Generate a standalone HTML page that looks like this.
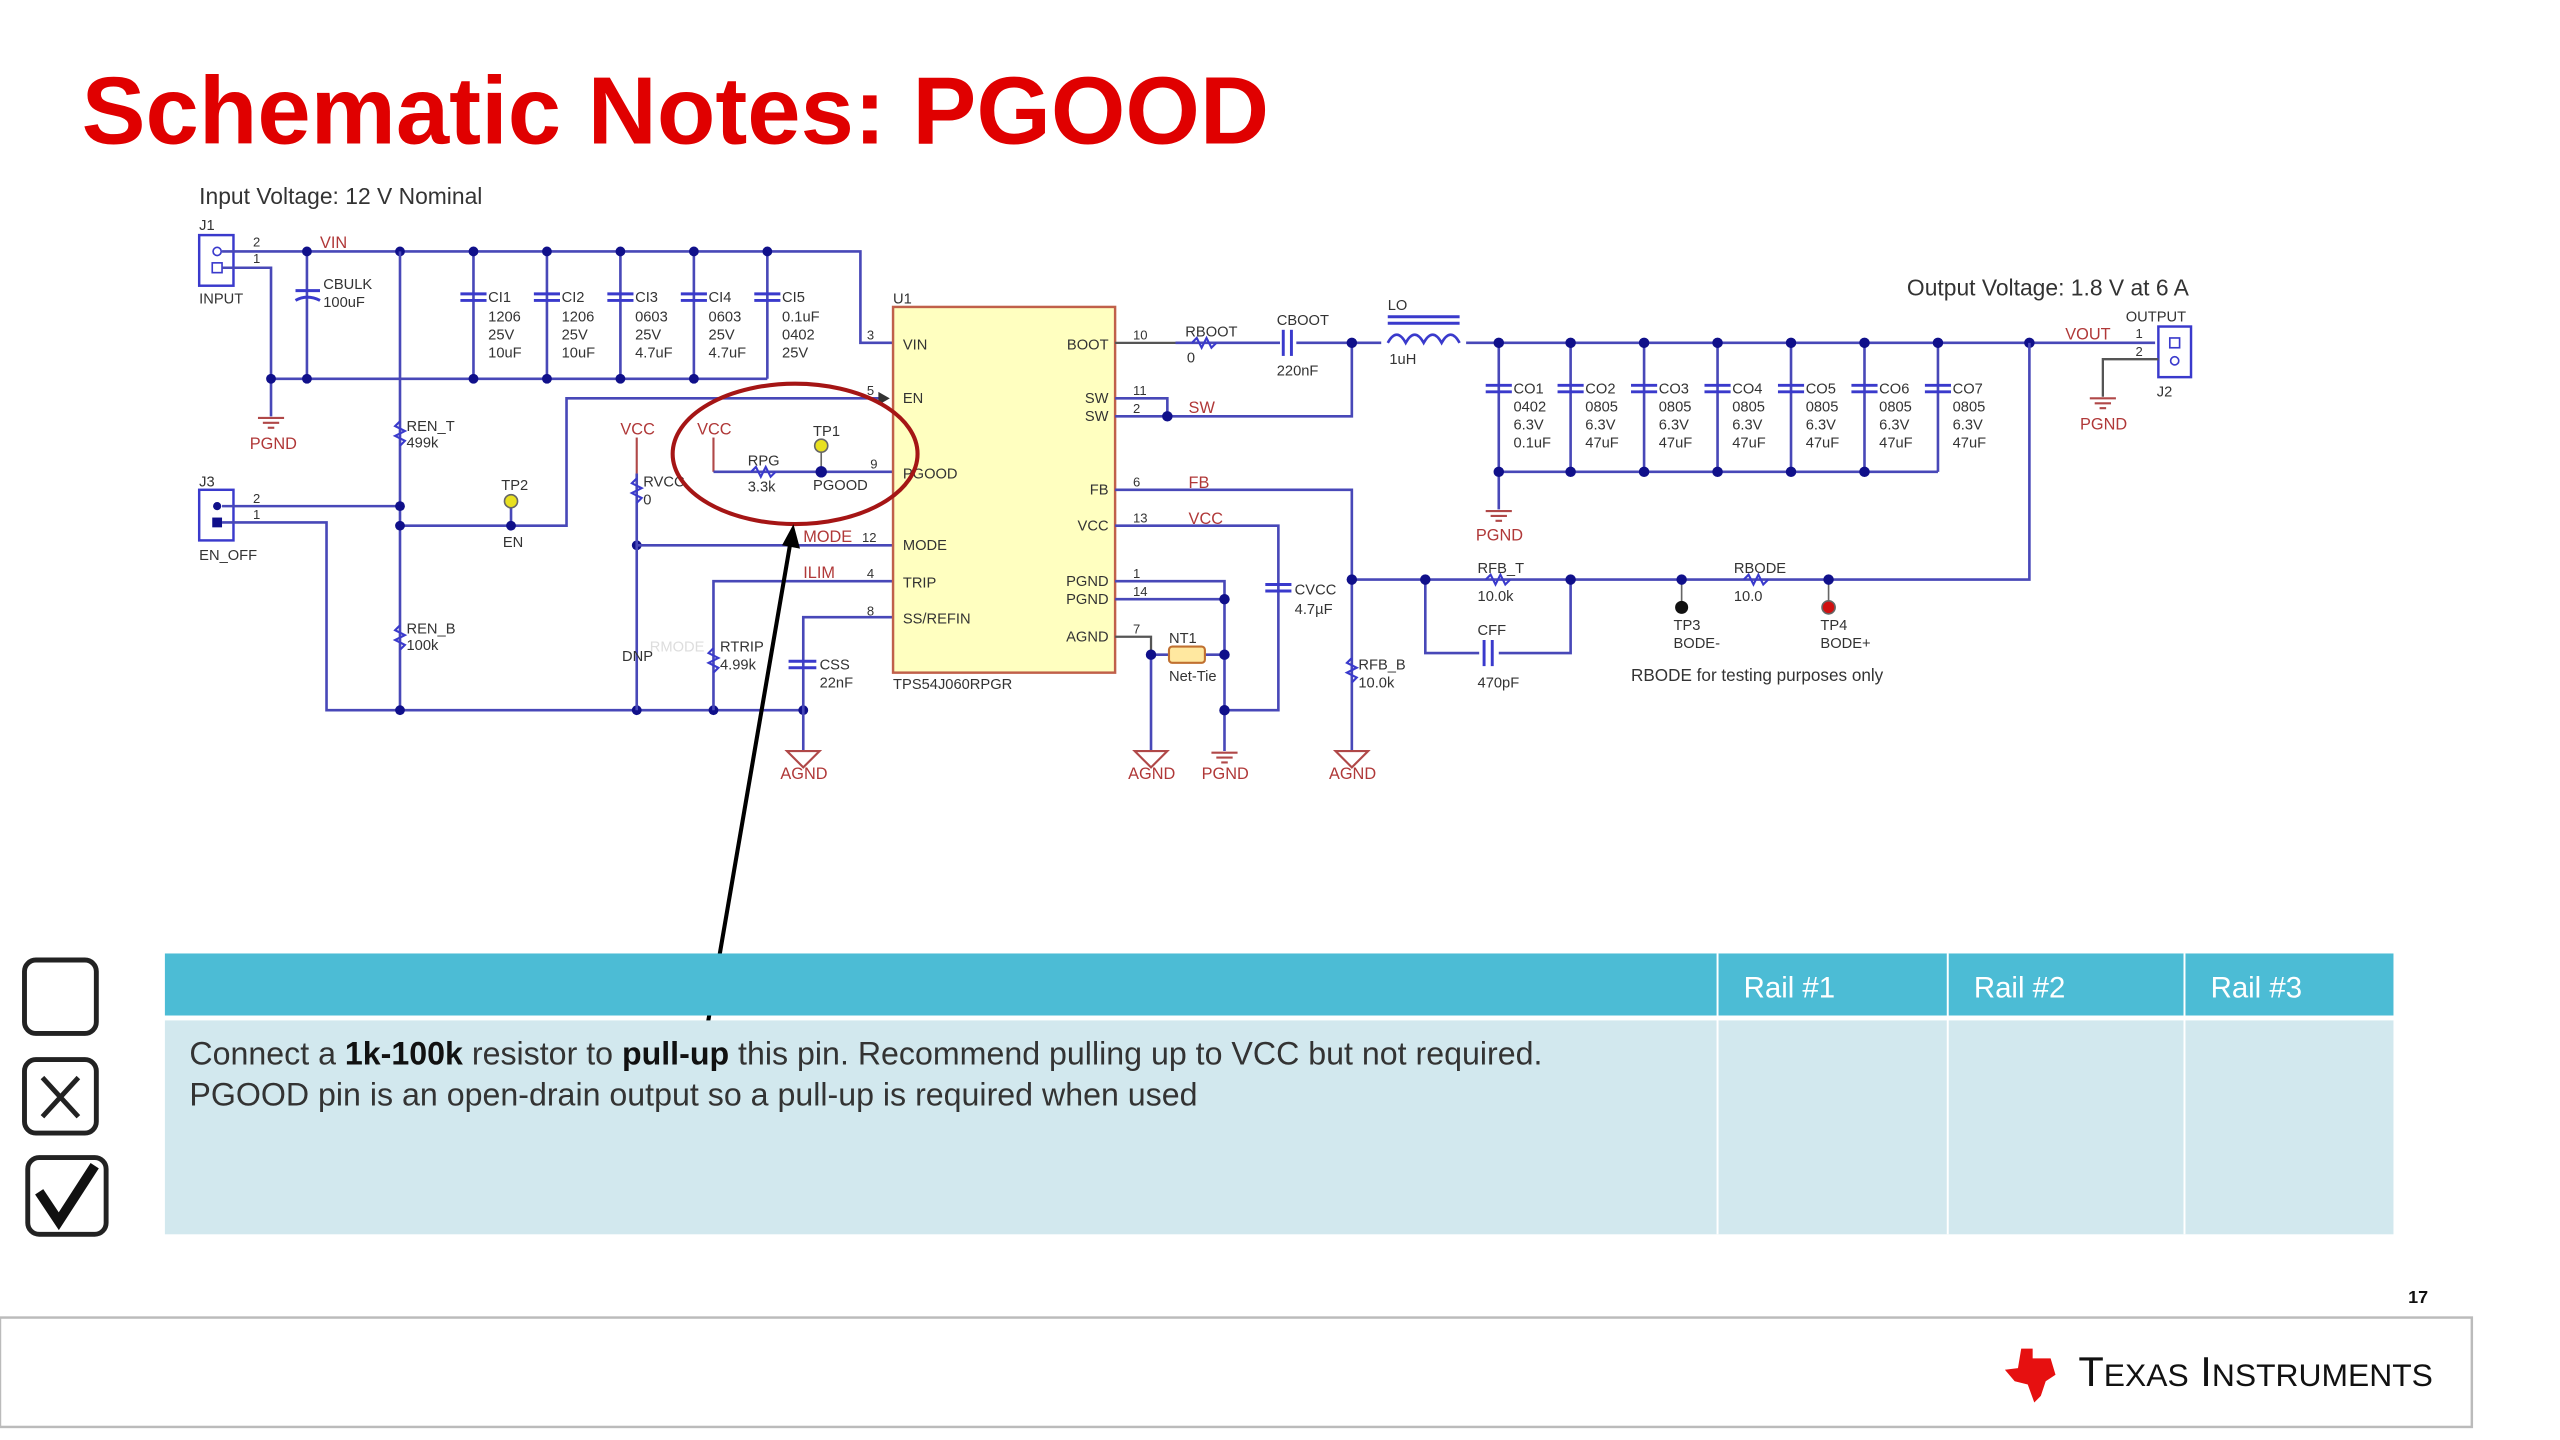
<!DOCTYPE html>
<html><head><meta charset="utf-8"><style>
html,body{margin:0;padding:0;background:#fff;}
svg{display:block;}
text{font-family:"Liberation Sans",sans-serif;}
.w{stroke:#4848b8;stroke-width:1.6;fill:none;}
.g{stroke:#555;stroke-width:1.4;fill:none;}
.d{fill:#10108a;}
.s{font-size:9px;fill:#333;}
.r{font-size:10px;fill:#b03838;}
.p{font-size:8px;fill:#333;}
.res{stroke:#3a3acc;stroke-width:1.3;fill:none;}
.cap{stroke:#3a3acc;stroke-width:1.8;}
.gnd{stroke:#b04848;stroke-width:1.3;fill:none;}
</style></head><body>
<svg width="2560" height="1440" viewBox="0 0 1568 882" preserveAspectRatio="none" xmlns="http://www.w3.org/2000/svg">
<rect width="1568" height="882" fill="#fff"/>
<text x="50" y="88" font-size="58.7" font-weight="bold" fill="#e00000">Schematic Notes: PGOOD</text>
<text x="122" y="125" font-size="14" fill="#333">Input Voltage: 12 V Nominal</text>
<text x="1168" y="181" font-size="14" fill="#333">Output Voltage: 1.8 V at 6 A</text>

<text x="122" y="141" class="s">J1</text>
<rect x="122" y="144" width="21" height="31" fill="none" stroke="#3a3acc" stroke-width="1.5"/>
<circle cx="133" cy="154" r="2.5" fill="none" stroke="#3a3acc"/><rect x="130" y="161" width="6" height="6" fill="none" stroke="#3a3acc"/>
<text x="122" y="186" class="s">INPUT</text>
<text x="155" y="151" class="p">2</text><text x="155" y="161" class="p">1</text>
<polyline class="w" points="136,154 527,154 527,210 547,210"/>
<polyline class="w" points="136,164 166,164 166,255"/>
<line class="w" x1="166" y1="232" x2="470" y2="232"/>
<text x="196" y="152" class="r">VIN</text>
<line class="w" x1="188" y1="154" x2="188" y2="232"/>
<line class="cap" x1="181" y1="178" x2="196" y2="178"/><path d="M181 184 Q188 180 196 184" class="cap" fill="none"/>
<text x="198" y="177" class="s">CBULK</text><text x="198" y="188" class="s">100uF</text>
<g class="gnd"><line x1="158" y1="256" x2="174" y2="256"/><line x1="161" y1="259" x2="171" y2="259"/><line x1="164" y1="262" x2="168" y2="262"/></g>
<text x="153" y="275" class="r">PGND</text>
<g>
<line class="w" x1="290" y1="154" x2="290" y2="232"/><line class="w" x1="335" y1="154" x2="335" y2="232"/><line class="w" x1="380" y1="154" x2="380" y2="232"/><line class="w" x1="425" y1="154" x2="425" y2="232"/><line class="w" x1="470" y1="154" x2="470" y2="232"/>
<line class="cap" x1="282" y1="180" x2="298" y2="180"/><line class="cap" x1="282" y1="184" x2="298" y2="184"/>
<line class="cap" x1="327" y1="180" x2="343" y2="180"/><line class="cap" x1="327" y1="184" x2="343" y2="184"/>
<line class="cap" x1="372" y1="180" x2="388" y2="180"/><line class="cap" x1="372" y1="184" x2="388" y2="184"/>
<line class="cap" x1="417" y1="180" x2="433" y2="180"/><line class="cap" x1="417" y1="184" x2="433" y2="184"/>
<line class="cap" x1="462" y1="180" x2="478" y2="180"/><line class="cap" x1="462" y1="184" x2="478" y2="184"/>
</g>
<text class="s" x="299" y="185">CI1</text><text class="s" x="299" y="197">1206</text><text class="s" x="299" y="208">25V</text><text class="s" x="299" y="219">10uF</text>
<text class="s" x="344" y="185">CI2</text><text class="s" x="344" y="197">1206</text><text class="s" x="344" y="208">25V</text><text class="s" x="344" y="219">10uF</text>
<text class="s" x="389" y="185">CI3</text><text class="s" x="389" y="197">0603</text><text class="s" x="389" y="208">25V</text><text class="s" x="389" y="219">4.7uF</text>
<text class="s" x="434" y="185">CI4</text><text class="s" x="434" y="197">0603</text><text class="s" x="434" y="208">25V</text><text class="s" x="434" y="219">4.7uF</text>
<text class="s" x="479" y="185">CI5</text><text class="s" x="479" y="197">0.1uF</text><text class="s" x="479" y="208">0402</text><text class="s" x="479" y="219">25V</text>
<g class="d"><circle cx="188" cy="154" r="3"/><circle cx="245" cy="154" r="3"/><circle cx="290" cy="154" r="3"/><circle cx="335" cy="154" r="3"/><circle cx="380" cy="154" r="3"/><circle cx="425" cy="154" r="3"/><circle cx="470" cy="154" r="3"/>
<circle cx="166" cy="232" r="3"/><circle cx="188" cy="232" r="3"/><circle cx="290" cy="232" r="3"/><circle cx="335" cy="232" r="3"/><circle cx="380" cy="232" r="3"/><circle cx="425" cy="232" r="3"/></g>

<line class="w" x1="245" y1="154" x2="245" y2="435"/>
<polyline class="res" points="245,258 242,261 248,264 242,267 248,270 245,273"/>
<text class="s" x="249" y="264">REN_T</text><text class="s" x="249" y="274">499k</text>
<polyline class="res" points="245,383 242,386 248,389 242,392 248,395 245,398"/>
<text class="s" x="249" y="388">REN_B</text><text class="s" x="249" y="398">100k</text>
<text x="122" y="298" class="s">J3</text>
<rect x="122" y="300" width="21" height="31" fill="none" stroke="#3a3acc" stroke-width="1.5"/>
<circle cx="133" cy="310" r="2.5" class="d"/><rect x="130" y="317" width="6" height="6" class="d"/>
<text x="122" y="343" class="s">EN_OFF</text>
<text x="155" y="308" class="p">2</text><text x="155" y="318" class="p">1</text>
<line class="w" x1="136" y1="310" x2="245" y2="310"/>
<polyline class="w" points="136,320 200,320 200,435 492,435"/>
<polyline class="w" points="245,322 347,322 347,244 540,244"/>
<path d="M538 240 L545 244 L538 248 Z" fill="#333"/>
<line class="w" x1="313" y1="307" x2="313" y2="322"/>
<circle cx="313" cy="307" r="4" fill="#e8e020" stroke="#666"/>
<text class="s" x="307" y="300">TP2</text><text class="s" x="308" y="335">EN</text>
<g class="d"><circle cx="245" cy="310" r="3"/><circle cx="245" cy="322" r="3"/><circle cx="313" cy="322" r="3"/><circle cx="245" cy="435" r="3"/><circle cx="390" cy="435" r="3"/><circle cx="437" cy="435" r="3"/><circle cx="492" cy="435" r="3"/><circle cx="390" cy="334" r="3"/></g>
<text class="r" x="380" y="266">VCC</text>
<line class="gnd" x1="390" y1="268" x2="390" y2="290"/>
<line class="w" x1="390" y1="290" x2="390" y2="435"/>
<polyline class="res" points="390,293 387,296 393,299 387,302 393,305 390,308"/>
<text class="s" x="394" y="298">RVCC</text><text class="s" x="394" y="309">0</text>
<text class="s" x="381" y="405">DNP</text>
<text x="398" y="399" font-size="9" fill="#ddd">RMODE</text>
<line class="w" x1="390" y1="334" x2="547" y2="334"/>
<text class="r" x="492" y="332">MODE</text><text class="p" x="528" y="332">12</text>
<text class="r" x="427" y="266">VCC</text>
<polyline class="gnd" points="437,268 437,289"/>
<line class="w" x1="437" y1="289" x2="547" y2="289"/>
<polyline class="res" points="460,289 463,286 466,292 469,286 472,292 475,289"/>
<text class="s" x="458" y="285">RPG</text><text class="s" x="458" y="301">3.3k</text>
<line x1="503" y1="273" x2="503" y2="289" stroke="#666"/>
<circle cx="503" cy="273" r="4" fill="#e8e020" stroke="#666"/>
<circle cx="503" cy="289" r="3.5" class="d"/>
<text class="s" x="498" y="267">TP1</text><text class="s" x="498" y="300">PGOOD</text><text class="p" x="533" y="287">9</text>
<polyline class="w" points="437,435 437,356 547,356"/>
<polyline class="res" points="437,397 434,400 440,403 434,406 440,409 437,412"/>
<text class="s" x="441" y="399">RTRIP</text><text class="s" x="441" y="410">4.99k</text>
<text class="r" x="492" y="354">ILIM</text><text class="p" x="531" y="354">4</text>
<polyline class="w" points="492,460 492,378 547,378"/>
<line class="cap" x1="483" y1="405" x2="500" y2="405"/><line class="cap" x1="483" y1="409" x2="500" y2="409"/>
<text class="s" x="502" y="410">CSS</text><text class="s" x="502" y="421">22nF</text><text class="p" x="531" y="377">8</text>
<path d="M482 460 L502 460 L492 470 Z" class="gnd"/><text class="r" x="478" y="477">AGND</text>

<text class="s" x="547" y="186">U1</text>
<rect x="547" y="188" width="136" height="224" fill="#ffffc0" stroke="#c0604a" stroke-width="1.5"/>
<g class="s"><text x="553" y="214">VIN</text><text x="553" y="247">EN</text><text x="553" y="293">PGOOD</text><text x="553" y="337">MODE</text><text x="553" y="360">TRIP</text><text x="553" y="382">SS/REFIN</text></g>
<g class="s" text-anchor="end"><text x="679" y="214">BOOT</text><text x="679" y="247">SW</text><text x="679" y="258">SW</text><text x="679" y="303">FB</text><text x="679" y="325">VCC</text><text x="679" y="359">PGND</text><text x="679" y="370">PGND</text><text x="679" y="393">AGND</text></g>
<text class="s" x="547" y="422">TPS54J060RPGR</text>
<text class="p" x="531" y="208">3</text><text class="p" x="531" y="242">5</text>
<g class="p"><text x="694" y="208">10</text><text x="694" y="242">11</text><text x="694" y="253">2</text><text x="694" y="298">6</text><text x="694" y="320">13</text><text x="694" y="354">1</text><text x="694" y="365">14</text><text x="694" y="388">7</text></g>
<line class="g" x1="683" y1="210" x2="720" y2="210"/>
<line class="w" x1="720" y1="210" x2="1320" y2="210"/>
<polyline class="res" points="730,210 733,207 736,213 739,207 742,213 745,210"/>
<text class="s" x="726" y="206">RBOOT</text><text class="s" x="727" y="222">0</text>
<rect x="784" y="202" width="10" height="16" fill="#fff"/><line class="cap" x1="786" y1="202" x2="786" y2="218"/><line class="cap" x1="791" y1="202" x2="791" y2="218"/>
<text class="s" x="782" y="199">CBOOT</text><text class="s" x="782" y="230">220nF</text>
<rect x="846" y="200" width="52" height="14" fill="#fff"/>
<path d="M850 210 q5.5 -10 11 0 q5.5 -10 11 0 q5.5 -10 11 0 q5.5 -10 11 0" fill="none" stroke="#3a3acc" stroke-width="1.6"/>
<line class="cap" x1="850" y1="194" x2="894" y2="194"/><line class="cap" x1="850" y1="198" x2="894" y2="198"/>
<text class="s" x="850" y="190">LO</text><text class="s" x="851" y="223">1uH</text>
<polyline class="w" points="683,244 715,244 715,255"/>
<polyline class="w" points="683,255 828,255 828,210"/>
<text class="r" x="728" y="253">SW</text>
<line class="w" x1="918" y1="289" x2="1187" y2="289"/>
<line class="w" x1="918" y1="289" x2="918" y2="312"/>
<g class="w"><line x1="918" y1="210" x2="918" y2="289"/><line x1="962" y1="210" x2="962" y2="289"/><line x1="1007" y1="210" x2="1007" y2="289"/><line x1="1052" y1="210" x2="1052" y2="289"/><line x1="1097" y1="210" x2="1097" y2="289"/><line x1="1142" y1="210" x2="1142" y2="289"/><line x1="1187" y1="210" x2="1187" y2="289"/></g>
<g class="cap">
<line x1="910" y1="236" x2="926" y2="236"/><line x1="910" y1="240" x2="926" y2="240"/>
<line x1="954" y1="236" x2="970" y2="236"/><line x1="954" y1="240" x2="970" y2="240"/>
<line x1="999" y1="236" x2="1015" y2="236"/><line x1="999" y1="240" x2="1015" y2="240"/>
<line x1="1044" y1="236" x2="1060" y2="236"/><line x1="1044" y1="240" x2="1060" y2="240"/>
<line x1="1089" y1="236" x2="1105" y2="236"/><line x1="1089" y1="240" x2="1105" y2="240"/>
<line x1="1134" y1="236" x2="1150" y2="236"/><line x1="1134" y1="240" x2="1150" y2="240"/>
<line x1="1179" y1="236" x2="1195" y2="236"/><line x1="1179" y1="240" x2="1195" y2="240"/>
</g>
<text class="s" x="927" y="241">CO1</text><text class="s" x="927" y="252">0402</text><text class="s" x="927" y="263">6.3V</text><text class="s" x="927" y="274">0.1uF</text>
<text class="s" x="971" y="241">CO2</text><text class="s" x="971" y="252">0805</text><text class="s" x="971" y="263">6.3V</text><text class="s" x="971" y="274">47uF</text>
<text class="s" x="1016" y="241">CO3</text><text class="s" x="1016" y="252">0805</text><text class="s" x="1016" y="263">6.3V</text><text class="s" x="1016" y="274">47uF</text>
<text class="s" x="1061" y="241">CO4</text><text class="s" x="1061" y="252">0805</text><text class="s" x="1061" y="263">6.3V</text><text class="s" x="1061" y="274">47uF</text>
<text class="s" x="1106" y="241">CO5</text><text class="s" x="1106" y="252">0805</text><text class="s" x="1106" y="263">6.3V</text><text class="s" x="1106" y="274">47uF</text>
<text class="s" x="1151" y="241">CO6</text><text class="s" x="1151" y="252">0805</text><text class="s" x="1151" y="263">6.3V</text><text class="s" x="1151" y="274">47uF</text>
<text class="s" x="1196" y="241">CO7</text><text class="s" x="1196" y="252">0805</text><text class="s" x="1196" y="263">6.3V</text><text class="s" x="1196" y="274">47uF</text>
<g class="gnd"><line x1="910" y1="313" x2="926" y2="313"/><line x1="913" y1="316" x2="923" y2="316"/><line x1="916" y1="319" x2="920" y2="319"/></g>
<text class="r" x="904" y="331">PGND</text>
<g class="d"><circle cx="828" cy="210" r="3.2"/><circle cx="715" cy="255" r="3.2"/><circle cx="918" cy="210" r="3.2"/><circle cx="962" cy="210" r="3.2"/><circle cx="1007" cy="210" r="3.2"/><circle cx="1052" cy="210" r="3.2"/><circle cx="1097" cy="210" r="3.2"/><circle cx="1142" cy="210" r="3.2"/><circle cx="1187" cy="210" r="3.2"/><circle cx="1243" cy="210" r="3.2"/>
<circle cx="918" cy="289" r="3.2"/><circle cx="962" cy="289" r="3.2"/><circle cx="1007" cy="289" r="3.2"/><circle cx="1052" cy="289" r="3.2"/><circle cx="1097" cy="289" r="3.2"/><circle cx="1142" cy="289" r="3.2"/></g>
<text class="s" x="1302" y="197">OUTPUT</text>
<rect x="1322" y="200" width="20" height="31" fill="none" stroke="#3a3acc" stroke-width="1.5"/>
<rect x="1329" y="207" width="6" height="6" fill="none" stroke="#3a3acc"/><circle cx="1332" cy="221" r="2.5" fill="none" stroke="#3a3acc"/>
<text class="s" x="1321" y="243">J2</text>
<text class="p" x="1308" y="207">1</text><text class="p" x="1308" y="218">2</text>
<text class="r" x="1265" y="208">VOUT</text>
<polyline class="g" points="1322,220 1288,220 1288,243"/>
<g class="gnd"><line x1="1280" y1="244" x2="1296" y2="244"/><line x1="1283" y1="247" x2="1293" y2="247"/><line x1="1286" y1="250" x2="1290" y2="250"/></g>
<text class="r" x="1274" y="263">PGND</text>
<polyline class="w" points="683,300 828,300 828,460"/>
<text class="r" x="728" y="299">FB</text>
<polyline class="w" points="683,322 783,322 783,435 750,435"/>
<text class="r" x="728" y="321">VCC</text>
<line class="cap" x1="775" y1="358" x2="791" y2="358"/><line class="cap" x1="775" y1="362" x2="791" y2="362"/>
<text class="s" x="793" y="364">CVCC</text><text class="s" x="793" y="376">4.7µF</text>
<polyline class="res" points="828,403 825,406 831,409 825,412 831,415 828,418"/>
<text class="s" x="832" y="410">RFB_B</text><text class="s" x="832" y="421">10.0k</text>
<path d="M818 460 L838 460 L828 470 Z" class="gnd"/><text class="r" x="814" y="477">AGND</text>
<polyline class="w" points="683,356 750,356 750,460"/>
<line class="w" x1="683" y1="367" x2="750" y2="367"/>
<polyline class="g" points="683,390 705,390 705,401"/>
<line class="w" x1="705" y1="401" x2="705" y2="460"/>
<line class="w" x1="705" y1="401" x2="750" y2="401"/>
<rect x="716" y="396" width="22" height="10" rx="2" fill="#ffe8a0" stroke="#c07030" stroke-width="1.3"/>
<text class="s" x="716" y="394">NT1</text><text class="s" x="716" y="417">Net-Tie</text>
<path d="M695 460 L715 460 L705 470 Z" class="gnd"/><text class="r" x="691" y="477">AGND</text>
<g class="gnd"><line x1="742" y1="461" x2="758" y2="461"/><line x1="745" y1="464" x2="755" y2="464"/><line x1="748" y1="467" x2="752" y2="467"/></g>
<text class="r" x="736" y="477">PGND</text>
<g class="d"><circle cx="750" cy="367" r="3.2"/><circle cx="705" cy="401" r="3.2"/><circle cx="750" cy="401" r="3.2"/><circle cx="750" cy="435" r="3.2"/></g>
<polyline class="w" points="828,355 1243,355 1243,210"/>
<polyline class="w" points="873,355 873,400 962,400 962,355"/>
<rect x="906" y="392" width="12" height="16" fill="#fff"/><line class="cap" x1="909" y1="392" x2="909" y2="408"/><line class="cap" x1="914" y1="392" x2="914" y2="408"/>
<text class="s" x="905" y="389">CFF</text><text class="s" x="905" y="421">470pF</text>
<polyline class="res" points="910,355 913,352 916,358 919,352 922,358 925,355"/>
<text class="s" x="905" y="351">RFB_T</text><text class="s" x="905" y="368">10.0k</text>
<polyline class="res" points="1068,355 1071,352 1074,358 1077,352 1080,358 1083,355"/>
<text class="s" x="1062" y="351">RBODE</text><text class="s" x="1062" y="368">10.0</text>
<line x1="1030" y1="355" x2="1030" y2="372" stroke="#666"/><circle cx="1030" cy="372" r="4" fill="#111"/>
<line x1="1120" y1="355" x2="1120" y2="372" stroke="#666"/><circle cx="1120" cy="372" r="4" fill="#d01010" stroke="#666"/>
<text class="s" x="1025" y="386">TP3</text><text class="s" x="1025" y="397">BODE-</text>
<text class="s" x="1115" y="386">TP4</text><text class="s" x="1115" y="397">BODE+</text>
<text x="999" y="417" font-size="10.5" fill="#333">RBODE for testing purposes only</text>
<g class="d"><circle cx="828" cy="355" r="3.2"/><circle cx="873" cy="355" r="3.2"/><circle cx="962" cy="355" r="3.2"/><circle cx="1030" cy="355" r="3.2"/><circle cx="1120" cy="355" r="3.2"/></g>

<ellipse cx="487" cy="278" rx="75" ry="43" fill="none" stroke="#a51515" stroke-width="2.5"/>
<line x1="433" y1="630" x2="484" y2="333" stroke="#000" stroke-width="2.5"/>
<path d="M486 321 L490 336 L479 334 Z" fill="#000"/>

<g fill="none" stroke="#222" stroke-width="3">
<rect x="15" y="588" width="44" height="45" rx="7"/>
<rect x="15" y="649" width="44" height="45" rx="7"/>
<path d="M26 660 L48 684 M48 660 L26 684"/>
<rect x="17" y="709" width="48" height="47" rx="7"/>
</g>
<path d="M24 730 L36 748 L58 714" fill="none" stroke="#111" stroke-width="6"/>

<rect x="101" y="584" width="1365" height="38" fill="#4cbcd5"/>
<rect x="101" y="625" width="1365" height="131" fill="#d2e8ee"/>
<g stroke="#fff" stroke-width="1.2"><line x1="1052" y1="584" x2="1052" y2="756"/><line x1="1193" y1="584" x2="1193" y2="756"/><line x1="1338" y1="584" x2="1338" y2="756"/></g>
<g font-size="18" fill="#fff"><text x="1068" y="611">Rail #1</text><text x="1209" y="611">Rail #2</text><text x="1354" y="611">Rail #3</text></g>
<text x="116" y="652" font-size="19.7" fill="#333">Connect a <tspan font-weight="bold" fill="#111">1k-100k</tspan> resistor to <tspan font-weight="bold" fill="#111">pull-up</tspan> this pin. Recommend pulling up to VCC but not required.</text>
<text x="116" y="677" font-size="19.7" fill="#333">PGOOD pin is an open-drain output so a pull-up is required when used</text>

<text x="1475" y="798" font-size="11" font-weight="bold" fill="#111">17</text>
<rect x="0" y="807" width="1514" height="67" fill="#fff" stroke="#bbb" stroke-width="1.5"/>
<path d="M1238 826 L1245 826 L1245 832 L1256 832 L1259 842 L1253 846 L1250 855 L1246 859 L1242 848 L1234 846 L1228 839 L1236 838 Z" fill="#e61010"/>
<text x="1273" y="849" font-family="Liberation Serif,serif" font-size="25.5" fill="#111">T<tspan font-size="19.5">EXAS</tspan> I<tspan font-size="19.5">NSTRUMENTS</tspan></text>
</svg>
</body></html>
